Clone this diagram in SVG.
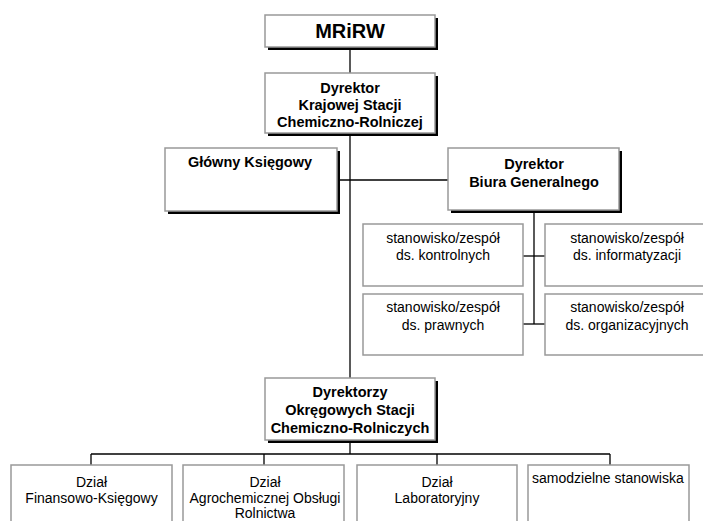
<svg xmlns="http://www.w3.org/2000/svg" width="703" height="521" viewBox="0 0 703 521">
<style>
.bg{fill:#fff}
.box{fill:#fff;stroke:#999;stroke-width:1.5}
.sh{fill:#000}
.ln{stroke:#000;stroke-width:1.3;fill:none}
.b{font-family:"Liberation Sans",Arial,sans-serif;font-weight:bold;font-size:14.5px;fill:#000;text-anchor:middle}
.r{font-family:"Liberation Sans",Arial,sans-serif;font-size:14px;fill:#000;text-anchor:middle}
</style>
<rect class="bg" x="0" y="0" width="703" height="521"/>
<g id="connectors">
<path class="ln" d="M350 47V73"/>
<path class="ln" d="M350 133V378"/>
<path class="ln" d="M337 180H448"/>
<path class="ln" d="M534 210V324"/>
<path class="ln" d="M523 256H545"/>
<path class="ln" d="M523 324H545"/>
<path class="ln" d="M350 440V454"/>
<path class="ln" d="M91 454H610"/>
<path class="ln" d="M91 454V465M264 454V465M437 454V465M610 454V465"/>
</g>
<g id="mrirw">
<rect class="sh" x="268" y="18" width="170" height="32"/>
<rect class="box" x="265" y="15" width="170" height="32"/>
<text class="b" x="350" y="38" style="font-size:20px">MRiRW</text>
</g>
<g id="dyrektor-kscr">
<rect class="sh" x="268" y="76" width="170" height="60"/>
<rect class="box" x="265" y="73" width="170" height="60"/>
<text class="b" x="350" y="93">Dyrektor</text>
<text class="b" x="350" y="110">Krajowej Stacji</text>
<text class="b" x="350" y="127">Chemiczno-Rolniczej</text>
</g>
<g id="glowny-ksiegowy">
<rect class="sh" x="168" y="151" width="172" height="63"/>
<rect class="box" x="165" y="148" width="172" height="63"/>
<text class="b" x="250" y="167">Główny Księgowy</text>
</g>
<g id="dyrektor-biura">
<rect class="sh" x="451" y="151" width="171" height="62"/>
<rect class="box" x="448" y="148" width="171" height="62"/>
<text class="b" x="534" y="169">Dyrektor</text>
<text class="b" x="534" y="187">Biura Generalnego</text>
</g>
<g id="kontrolne">
<rect class="box" x="363" y="224" width="160" height="62"/>
<text class="r" x="443" y="243">stanowisko/zespół</text>
<text class="r" x="443" y="260">ds. kontrolnych</text>
</g>
<g id="informatyzacja">
<rect class="box" x="545" y="224" width="165" height="62"/>
<text class="r" x="627" y="243">stanowisko/zespół</text>
<text class="r" x="627" y="260">ds. informatyzacji</text>
</g>
<g id="prawne">
<rect class="box" x="363" y="294" width="160" height="61"/>
<text class="r" x="443" y="312">stanowisko/zespół</text>
<text class="r" x="443" y="330">ds. prawnych</text>
</g>
<g id="organizacyjne">
<rect class="box" x="545" y="294" width="165" height="61"/>
<text class="r" x="627" y="312">stanowisko/zespół</text>
<text class="r" x="627" y="330">ds. organizacyjnych</text>
</g>
<g id="dyrektorzy-oscr">
<rect class="sh" x="268" y="381" width="170" height="62"/>
<rect class="box" x="265" y="378" width="170" height="62"/>
<text class="b" x="350" y="397">Dyrektorzy</text>
<text class="b" x="350" y="415">Okręgowych Stacji</text>
<text class="b" x="350" y="433">Chemiczno-Rolniczych</text>
</g>
<g id="dzial-fk">
<rect class="box" x="11" y="465" width="161" height="70"/>
<text class="r" x="91.5" y="487">Dział</text>
<text class="r" x="91.5" y="503">Finansowo-Księgowy</text>
</g>
<g id="dzial-aor">
<rect class="box" x="183" y="465" width="161" height="70"/>
<text class="r" x="265" y="487">Dział</text>
<text class="r" x="265" y="503">Agrochemicznej Obsługi</text>
<text class="r" x="265" y="518">Rolnictwa</text>
</g>
<g id="dzial-lab">
<rect class="box" x="357" y="465" width="160" height="70"/>
<text class="r" x="437" y="487">Dział</text>
<text class="r" x="437" y="503">Laboratoryjny</text>
</g>
<g id="samodzielne">
<rect class="box" x="528" y="465" width="161" height="70"/>
<text class="r" x="532" y="483" style="text-anchor:start">samodzielne stanowiska</text>
</g>
</svg>
